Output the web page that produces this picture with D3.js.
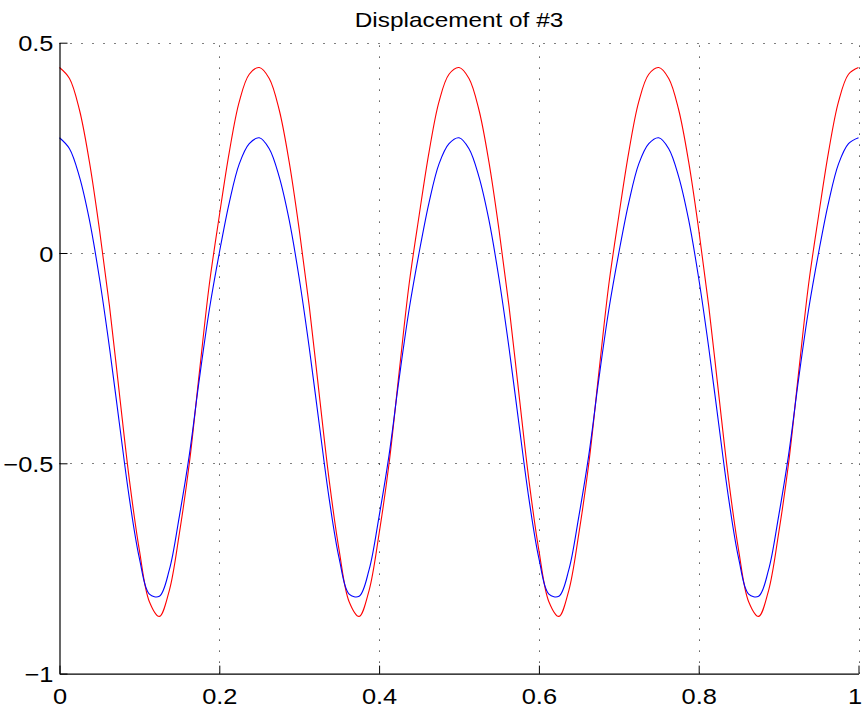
<!DOCTYPE html>
<html>
<head>
<meta charset="utf-8">
<script src="https://cdn.jsdelivr.net/npm/d3@7"></script>
<style>
  html, body { margin: 0; padding: 0; background: #fff; }
  svg { display: block; }
  text { font-family: "Liberation Sans", Arial, Helvetica, sans-serif; fill: #000; }
</style>
</head>
<body>
<svg id="chart" width="863" height="711"></svg>
<script>
// ---- data ----
const title = "Displacement of #3";

const time = [
  0.0000, 0.0125, 0.0250, 0.0375, 0.0500, 0.0625, 0.0750, 0.0875, 0.1000, 0.1125,
  0.1250, 0.1375, 0.1500, 0.1625, 0.1750, 0.1875, 0.2000, 0.2125, 0.2250, 0.2375,
  0.2500, 0.2625, 0.2750, 0.2875, 0.3000, 0.3125, 0.3250, 0.3375, 0.3500, 0.3625,
  0.3750, 0.3875, 0.4000, 0.4125, 0.4250, 0.4375, 0.4500, 0.4625, 0.4750, 0.4875,
  0.5000, 0.5125, 0.5250, 0.5375, 0.5500, 0.5625, 0.5750, 0.5875, 0.6000, 0.6125,
  0.6250, 0.6375, 0.6500, 0.6625, 0.6750, 0.6875, 0.7000, 0.7125, 0.7250, 0.7375,
  0.7500, 0.7625, 0.7750, 0.7875, 0.8000, 0.8125, 0.8250, 0.8375, 0.8500, 0.8625,
  0.8750, 0.8875, 0.9000, 0.9125, 0.9250, 0.9375, 0.9500, 0.9625, 0.9750, 0.9875,
  1.0000
];

const redValues = [
  0.441, 0.415, 0.340, 0.216, 0.056, -0.125, -0.335, -0.540, -0.707, -0.829,
  -0.864, -0.802, -0.667, -0.500, -0.285, -0.075, 0.088, 0.240, 0.360, 0.425,
  0.441, 0.415, 0.340, 0.216, 0.056, -0.125, -0.335, -0.540, -0.707, -0.829,
  -0.864, -0.802, -0.667, -0.500, -0.285, -0.075, 0.088, 0.240, 0.360, 0.425,
  0.441, 0.415, 0.340, 0.216, 0.056, -0.125, -0.335, -0.540, -0.707, -0.829,
  -0.864, -0.802, -0.667, -0.500, -0.285, -0.075, 0.088, 0.240, 0.360, 0.425,
  0.441, 0.415, 0.340, 0.216, 0.056, -0.125, -0.335, -0.540, -0.707, -0.829,
  -0.864, -0.802, -0.667, -0.500, -0.285, -0.075, 0.088, 0.240, 0.360, 0.425,
  0.441
];

const blueValues = [
  0.274, 0.248, 0.181, 0.078, -0.060, -0.224, -0.406, -0.584, -0.726, -0.811,
  -0.816, -0.753, -0.626, -0.480, -0.300, -0.135, 0.000, 0.120, 0.212, 0.260,
  0.274, 0.248, 0.181, 0.078, -0.060, -0.224, -0.406, -0.584, -0.726, -0.811,
  -0.816, -0.753, -0.626, -0.480, -0.300, -0.135, 0.000, 0.120, 0.212, 0.260,
  0.274, 0.248, 0.181, 0.078, -0.060, -0.224, -0.406, -0.584, -0.726, -0.811,
  -0.816, -0.753, -0.626, -0.480, -0.300, -0.135, 0.000, 0.120, 0.212, 0.260,
  0.274, 0.248, 0.181, 0.078, -0.060, -0.224, -0.406, -0.584, -0.726, -0.811,
  -0.816, -0.753, -0.626, -0.480, -0.300, -0.135, 0.000, 0.120, 0.212, 0.260,
  0.274
];

const xTicks = [0, 0.2, 0.4, 0.6, 0.8, 1];
const xTickLabels = ["0", "0.2", "0.4", "0.6", "0.8", "1"];
const yTicks = [-1, -0.5, 0, 0.5];
const yTickLabels = ["\u22121", "\u22120.5", "0", "0.5"];

// ---- layout ----
const svg = d3.select("#chart");
const plotLeft = 59.5, plotRight = 858.5, plotTop = 42.7, plotBottom = 673.6;
const x = d3.scaleLinear().domain([0, 1]).range([plotLeft, plotRight]);
const y = d3.scaleLinear().domain([-1, 0.5]).range([plotBottom, plotTop]);
const titleSize = 21, tickSize = 22.5, stretch = 1.13;

// grid (dotted)
const grid = svg.append("g");
grid.selectAll("line.vx").data(xTicks.filter(d => d > 0)).join("line")
  .attr("x1", d => Math.round(x(d)) + 0.5).attr("x2", d => Math.round(x(d)) + 0.5)
  .attr("y1", plotBottom).attr("y2", plotTop)
  .attr("stroke", "#000").attr("stroke-width", 1).attr("stroke-dasharray", "1,10");
grid.selectAll("line.hy").data(yTicks.filter(d => d > -1)).join("line")
  .attr("y1", d => Math.round(y(d)) + 0.5).attr("y2", d => Math.round(y(d)) + 0.5)
  .attr("x1", plotLeft).attr("x2", plotRight)
  .attr("stroke", "#000").attr("stroke-width", 1).attr("stroke-dasharray", "1,10");

// curves
const line = (vals) => d3.line()
  .x((d, i) => x(time[i]))
  .y(d => y(d))
  .curve(d3.curveCatmullRom.alpha(0.5))(vals);

svg.append("path").attr("d", line(redValues))
  .attr("fill", "none").attr("stroke", "#ff0000").attr("stroke-width", 1.1);
svg.append("path").attr("d", line(blueValues))
  .attr("fill", "none").attr("stroke", "#0000ff").attr("stroke-width", 1.1);

// axes
const xAxis = d3.axisBottom(x).tickValues(xTicks).tickSize(-8).tickSizeOuter(0)
  .tickFormat((d, i) => xTickLabels[i]);
const gx = svg.append("g").attr("transform", `translate(0,${plotBottom})`).call(xAxis);
gx.select(".domain").attr("stroke", "#000").attr("stroke-width", 1.2);
gx.selectAll(".tick line").attr("stroke", "#000").attr("stroke-width", 1);
gx.selectAll(".tick text")
  .attr("y", 0).attr("dy", null)
  .attr("transform", (d, i) => `translate(${i === xTicks.length - 1 ? -4 : 0},30.5) scale(${stretch},1)`)
  .attr("font-size", tickSize).attr("font-family", "Liberation Sans, Arial, sans-serif")
  .attr("fill", "#000");

const yAxis = d3.axisLeft(y).tickValues(yTicks).tickSize(-8).tickSizeOuter(0)
  .tickFormat((d, i) => yTickLabels[i]);
const gy = svg.append("g").attr("transform", `translate(${plotLeft},0)`).call(yAxis);
gy.select(".domain").attr("stroke", "#000").attr("stroke-width", 1.2);
gy.selectAll(".tick line").attr("stroke", "#000").attr("stroke-width", 1);
gy.selectAll(".tick text")
  .attr("x", 0).attr("dy", null).attr("y", 0)
  .attr("transform", `translate(-6,8) scale(${stretch},1)`)
  .attr("font-size", tickSize).attr("font-family", "Liberation Sans, Arial, sans-serif")
  .attr("fill", "#000");

// title
svg.append("text")
  .attr("transform", `translate(${(plotLeft + plotRight) / 2},27) scale(1.16,1)`)
  .attr("text-anchor", "middle")
  .attr("font-size", titleSize)
  .text(title);
</script>
</body>
</html>
